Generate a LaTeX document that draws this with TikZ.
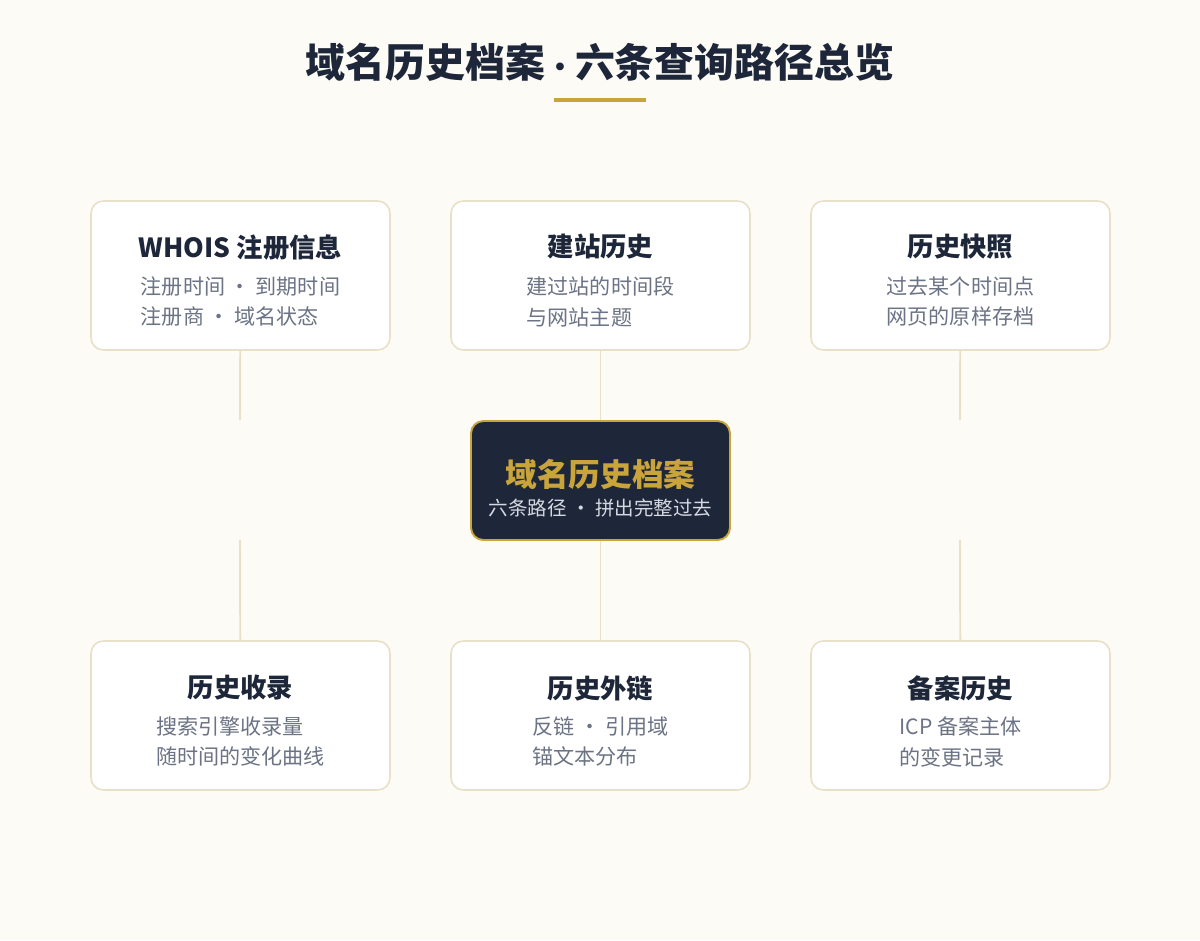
\documentclass[tikz,border=0pt]{standalone}
\usepackage{fontspec}
\setmainfont{Noto Sans CJK SC}
\usetikzlibrary{positioning}
\definecolor{paper}{HTML}{FCFBF6}
\definecolor{ink}{HTML}{1E2739}
\definecolor{gold}{HTML}{C9A43A}
\definecolor{frame}{HTML}{E9E0C9}
\definecolor{muted}{HTML}{6B7385}
\definecolor{pale}{HTML}{D5D9E2}

\begin{document}
\begin{tikzpicture}[x=0.02cm, y=-0.02cm,
            card/.style={draw=frame, line width=0.9pt, fill=white, rounded corners=7pt,
                         minimum width=5.98cm, minimum height=2.98cm, inner sep=0},
            head/.style={text=ink, font=\fontsize{15}{18}\selectfont\bfseries, inner sep=0},
            note/.style={text=muted, align=left, font=\fontsize{12}{17.6}\selectfont, inner sep=0},
            link/.style={draw=frame, line width=1.1pt}]
        \fill [paper] (0,0) rectangle (1200,940);
        \useasboundingbox (0,0) rectangle (1200,940);

        \node (title) [text=ink, font=\fontsize{22.7}{26}\selectfont\bfseries] at (600,62)
            {域名历史档案\makebox[0.75em]{\scalebox{0.7}{·}}六条查询路径总览};
        \path (title) ++(-46,38) coordinate (rule-l) ++(92,0) coordinate (rule-r);
        \draw [gold, line width=2.3pt] (rule-l) -- (rule-r);

        % top row
        \node (whois) [card] at (240.5,275.5) {};
        \node (site)  [card] at (600.5,275.5) {};
        \node (snap)  [card] at (960.5,275.5) {};
        \path (whois) ++(0,-28.5) node [head] {WHOIS 注册信息};
        \path (whois) ++(0, 26)   node [note] {注册时间 · 到期时间\\注册商 · 域名状态};
        \path (site)  ++(0,-28.5) node [head] {建站历史};
        \path (site)  ++(0, 26)   node [note] {建过站的时间段\\与网站主题};
        \path (snap)  ++(0,-28.5) node [head] {历史快照};
        \path (snap)  ++(0, 26)   node [note] {过去某个时间点\\网页的原样存档};

        % bottom row
        \node (index) [card] at (240.5,715.5) {};
        \node (links) [card] at (600.5,715.5) {};
        \node (icp)   [card] at (960.5,715.5) {};
        \path (index) ++(0,-27.5) node [head] {历史收录};
        \path (index) ++(0, 26)   node [note] {搜索引擎收录量\\随时间的变化曲线};
        \path (links) ++(0,-27.5) node [head] {历史外链};
        \path (links) ++(0, 26)   node [note] {反链 · 引用域\\锚文本分布};
        \path (icp)   ++(0,-27.5) node [head] {备案历史};
        \path (icp)   ++(0, 26)   node [note] {ICP 备案主体\\的变更记录};

        % centre
        \node (core) [draw=gold, line width=1.1pt, fill=ink, rounded corners=7pt,
                      minimum width=5.18cm, minimum height=2.38cm] at (600.5,480.5) {};
        \path (core) ++(0,-6)   node [text=gold, font=\fontsize{18}{22}\selectfont\bfseries] {域名历史档案};
        \path (core) ++(0,27.5) node [text=pale, font=\fontsize{11.1}{13}\selectfont] {六条路径 · 拼出完整过去};

        % connectors
        \coordinate (whois-end) at (240,420);
        \coordinate (snap-end)  at (960,420);
        \coordinate (index-end) at (240,540);
        \coordinate (icp-end)   at (960,540);
        \draw [link] (whois) -- (whois-end);
        \draw [link] (snap) -- (snap-end);
        \draw [link] (site) -- (core);
        \draw [link] (core) -- (links);
        \draw [link] (index-end) -- (index);
        \draw [link] (icp-end) -- (icp);
    \end{tikzpicture}
\end{document}
